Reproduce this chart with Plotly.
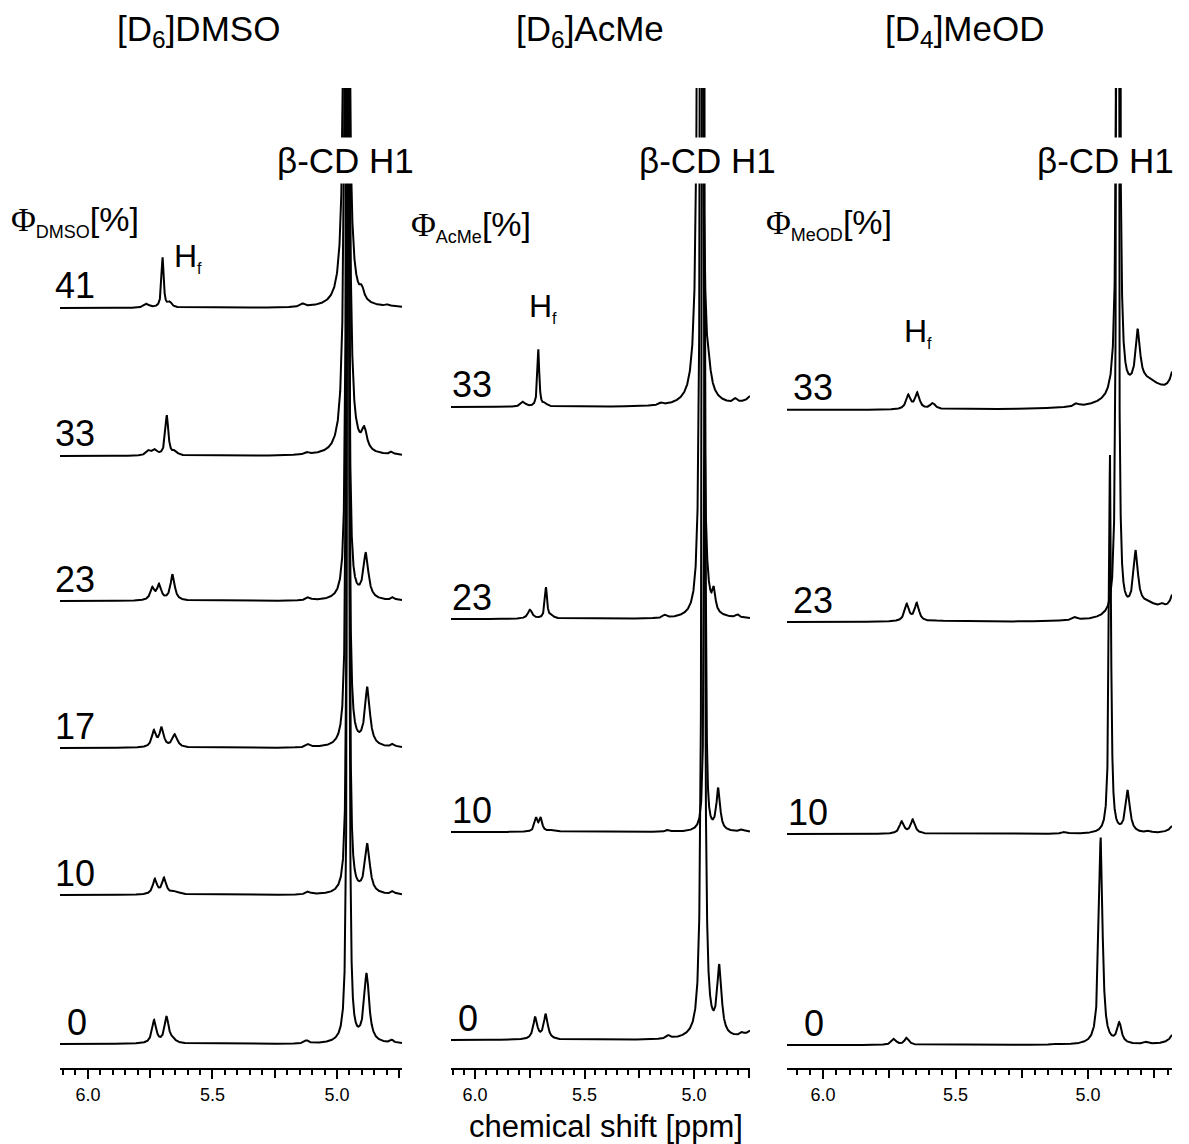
import numpy as np
import plotly.graph_objects as go

W, H = 1189, 1144
FONT = "Liberation Sans, Arial, sans-serif"
SERIF = "Liberation Serif, Times New Roman, serif"

# ---------------------------------------------------------------------------
# Peak tables for each 1H NMR trace: (shift in ppm, intensity, half-width in ppm)
# ---------------------------------------------------------------------------

# [D6]DMSO series
dmso_0 = [(5.734, 23, 0.010), (5.684, 26, 0.010), (5.660, 3, 0.015), (5.122, 3, 0.010),
          (4.955, 2500, 0.0025), (4.881, 68, 0.012), (4.780, 3, 0.008)]
dmso_10 = [(5.731, 15, 0.010), (5.694, 16, 0.010), (5.650, 3, 0.020), (5.115, 3, 0.010),
           (4.955, 2500, 0.0025), (4.878, 49, 0.012), (4.775, 3, 0.008)]
dmso_17 = [(5.735, 16, 0.010), (5.704, 19, 0.010), (5.651, 13, 0.012), (5.115, 3, 0.010),
           (4.957, 2500, 0.0028), (4.878, 58, 0.012), (4.775, 3, 0.008)]
dmso_23 = [(5.741, 12, 0.010), (5.714, 15, 0.010), (5.660, 26, 0.010), (5.115, 3, 0.010),
           (4.958, 2500, 0.0028), (4.884, 45, 0.012), (4.775, 3, 0.008)]
dmso_33 = [(5.755, 5, 0.012), (5.730, 5, 0.010), (5.683, 40, 0.007), (5.650, 4, 0.010),
           (5.120, 2, 0.010), (4.960, 2500, 0.0044), (4.890, 20, 0.012), (4.780, 3, 0.008)]
dmso_41 = [(5.764, 4, 0.012), (5.700, 50, 0.005), (5.671, 5, 0.010), (5.136, 3, 0.010),
           (4.962, 2500, 0.0045), (4.900, 10, 0.010), (4.795, 2, 0.010)]

# [D6]AcMe series
acme_0 = [(5.725, 22, 0.011), (5.677, 25, 0.011), (5.117, 3, 0.010), (4.958, 2500, 0.004),
          (4.884, 68, 0.012), (4.780, 3, 0.010), (4.700, 25, 0.030)]
acme_10 = [(5.721, 13, 0.008), (5.700, 13, 0.008), (5.640, 2, 0.020), (5.117, 2, 0.010),
           (4.950, 560, 0.004), (4.889, 42, 0.010), (4.780, 2, 0.010)]
acme_23 = [(5.749, 9, 0.012), (5.676, 31, 0.006), (5.650, 2, 0.015), (5.132, 3, 0.010),
           (4.965, 2500, 0.004), (4.909, 20, 0.008), (4.800, 3, 0.010)]
acme_33 = [(5.780, 5, 0.012), (5.711, 57, 0.005), (5.680, 3, 0.010), (5.150, 2, 0.010),
           (4.973, 2500, 0.0055), (4.927, 6, 0.010), (4.810, 4, 0.010), (4.700, 30, 0.030)]

# [D4]MeOD series
meod_0 = [(5.732, 6, 0.010), (5.684, 7, 0.010), (5.118, 1, 0.010), (4.952, 207, 0.008),
          (4.882, 20, 0.010), (4.780, 2, 0.010), (4.655, 45, 0.015)]
meod_10 = [(5.703, 12, 0.010), (5.661, 14, 0.010), (5.087, 2, 0.010), (4.917, 378, 0.0045),
           (4.850, 42, 0.010), (4.770, 2, 0.010), (4.655, 35, 0.015)]
meod_23 = [(5.684, 17, 0.010), (5.646, 18, 0.010), (5.560, 1, 0.020), (5.049, 3, 0.010),
           (4.889, 2500, 0.0025), (4.820, 55, 0.010), (4.780, 16, 0.080), (4.720, 3, 0.010),
           (4.655, 90, 0.015)]
meod_33 = [(5.678, 14, 0.010), (5.644, 16, 0.010), (5.586, 6, 0.012), (5.043, 3, 0.010),
           (4.886, 2500, 0.003), (4.812, 53, 0.010), (4.780, 26, 0.090), (4.655, 115, 0.015)]

dmso_percent = [0, 10, 17, 23, 33, 41]
acme_percent = [0, 10, 23, 33]
meod_percent = [0, 10, 23, 33]

dmso_traces = [dmso_0, dmso_10, dmso_17, dmso_23, dmso_33, dmso_41]
acme_traces = [acme_0, acme_10, acme_23, acme_33]
meod_traces = [meod_0, meod_10, meod_23, meod_33]

label_ticks = [6.0, 5.5, 5.0]
label_text = ["6.0", "5.5", "5.0"]
quarter_ticks = [5.75, 5.25, 4.75]

# layout of the three panels: pixel extents, ppm window and stacking offsets
panels = [
    dict(name="[D<sub>6</sub>]DMSO", solv="DMSO", percent=dmso_percent, traces=dmso_traces,
         px=(60, 402), ppm=(6.112, 4.739), offsets=[24, 173, 320, 467, 612, 760],
         label_px=[65, 53, 53, 53, 53, 53], title_px=198, cd_px=345,
         phi_px=9, phi_py=221, hf_px=172, hf_py=257),
    dict(name="[D<sub>6</sub>]AcMe", solv="AcMe", percent=acme_percent, traces=acme_traces,
         px=(451, 750), ppm=(6.110, 4.744), offsets=[28, 236, 449, 661],
         label_px=[456, 450, 450, 450], title_px=590, cd_px=707,
         phi_px=409, phi_py=226, hf_px=527, hf_py=308),
    dict(name="[D<sub>4</sub>]MeOD", solv="MeOD", percent=meod_percent, traces=meod_traces,
         px=(787, 1172), ppm=(6.136, 4.683), offsets=[23, 234, 446, 658],
         label_px=[802, 786, 791, 791], title_px=965, cd_px=1105,
         phi_px=764, phi_py=224, hf_px=902, hf_py=333),
]

AXIS_PY = 1068   # pixel row of the ppm axes
TOP_PY = 88      # top edge of the plotting window
Y_SPAN = AXIS_PY - TOP_PY


def spectrum(ppm, peaks):
    y = np.zeros_like(ppm)
    for c, h, g in peaks:
        y += h * g * g / ((ppm - c) ** 2 + g * g)
    return y


fig = go.Figure()
annotations = []
n = len(panels)

for i, p in enumerate(panels):
    sfx = "" if i == 0 else str(i + 1)
    xa, ya = "x" + sfx, "y" + sfx
    lo, hi = p["ppm"][1], p["ppm"][0]
    for peaks, off, pct, lpx in zip(p["traces"], p["offsets"], p["percent"], p["label_px"]):
        grid = np.linspace(lo, hi, 6000)
        grid = np.union1d(grid, [c for c, _, _ in peaks if lo <= c <= hi])
        fig.add_trace(go.Scatter(
            x=grid, y=spectrum(grid, peaks) + off, mode="lines",
            line=dict(color="black", width=2), xaxis=xa, yaxis=ya,
            hoverinfo="skip", showlegend=False))
        annotations.append(dict(
            x=lpx / W, xref="paper", y=off + 22, yref=ya, text=str(pct),
            showarrow=False, xanchor="left", yanchor="middle",
            font=dict(size=36, color="black", family=FONT)))

    dom = [p["px"][0] / W, p["px"][1] / W]
    fig.update_layout({
        "xaxis" + sfx: dict(
            domain=dom, range=list(p["ppm"]),
            anchor=ya, showgrid=False, zeroline=False, showline=True,
            linecolor="black", linewidth=2, ticks="outside", ticklen=9,
            tickwidth=2, tickcolor="black", tickmode="array",
            tickvals=label_ticks, ticktext=label_text,
            tickfont=dict(size=18, color="black", family=FONT),
            minor=dict(tick0=6.0, dtick=0.05, ticks="outside", ticklen=5,
                       tickwidth=1.5, tickcolor="black")),
        "yaxis" + sfx: dict(
            domain=[(H - AXIS_PY) / H, (H - TOP_PY) / H], range=[0, Y_SPAN],
            anchor=xa, visible=False),
        # companion axis carrying the longer quarter-ppm ticks
        "xaxis" + str(n + i + 1): dict(
            domain=dom, range=list(p["ppm"]), overlaying=xa, anchor=ya,
            side="bottom", showgrid=False, zeroline=False, showline=False,
            ticks="outside", ticklen=9, tickwidth=2, tickcolor="black",
            tickmode="array", tickvals=quarter_ticks, showticklabels=False),
    })

    # panel title
    annotations.append(dict(
        x=p["title_px"] / W, y=1 - 31 / H, xref="paper", yref="paper",
        text=p["name"], showarrow=False, xanchor="center", yanchor="middle",
        font=dict(size=35, color="black", family=FONT)))
    # beta-CD H1 label over the anomeric peak
    annotations.append(dict(
        x=p["cd_px"] / W, y=1 - 160 / H, xref="paper", yref="paper",
        text="β-CD H1", showarrow=False, xanchor="center", yanchor="middle",
        bgcolor="white", borderpad=3,
        font=dict(size=35, color="black", family=FONT)))
    # volume fraction header
    annotations.append(dict(
        x=p["phi_px"] / W, y=1 - p["phi_py"] / H, xref="paper", yref="paper",
        text=('<span style="font-family:' + SERIF + '">Φ</span>'
              '<sub><span style="font-size:18px">' + p["solv"] + '</span></sub>[%]'),
        showarrow=False, xanchor="left", yanchor="middle",
        font=dict(size=34, color="black", family=FONT)))
    # H_f proton label
    annotations.append(dict(
        x=p["hf_px"] / W, y=1 - p["hf_py"] / H, xref="paper", yref="paper",
        text='H<sub><span style="font-size:16px">f</span></sub>', showarrow=False,
        xanchor="left", yanchor="middle",
        font=dict(size=32, color="black", family=FONT)))

annotations.append(dict(
    x=606 / W, y=1 - 1126 / H, xref="paper", yref="paper",
    text="chemical shift [ppm]", showarrow=False, xanchor="center", yanchor="middle",
    font=dict(size=31, color="black", family=FONT)))

# invisible anchor traces so the companion tick axes are rendered
for i, p in enumerate(panels):
    fig.add_trace(go.Scatter(
        x=[p["ppm"][0]], y=[0], mode="markers", marker=dict(opacity=0),
        xaxis="x" + str(n + i + 1), yaxis="y" if i == 0 else "y" + str(i + 1),
        hoverinfo="skip", showlegend=False))

fig.update_layout(
    width=W, height=H, margin=dict(l=0, r=0, t=0, b=0),
    paper_bgcolor="white", plot_bgcolor="white",
    annotations=annotations, showlegend=False,
)

fig.write_html("out.html")
